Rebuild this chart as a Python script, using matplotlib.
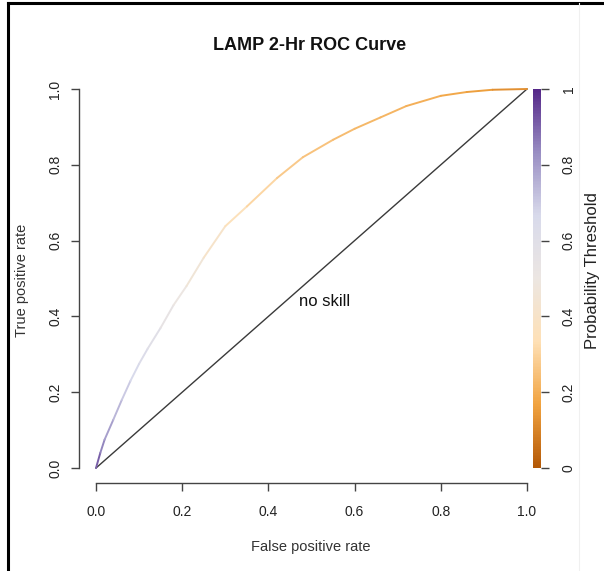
import numpy as np
import matplotlib
matplotlib.use("Agg")
import matplotlib.pyplot as plt
from matplotlib.collections import LineCollection
from matplotlib.colors import LinearSegmentedColormap, Normalize
from matplotlib.cm import ScalarMappable
from matplotlib.lines import Line2D

plt.rcParams['font.family'] = ['Liberation Sans', 'DejaVu Sans']

# ROC curve
fpr = [0.0, 0.01, 0.02, 0.04, 0.06, 0.08, 0.10, 0.12, 0.15, 0.18, 0.21, 0.25,
       0.30, 0.35, 0.42, 0.48, 0.55, 0.60, 0.66, 0.72, 0.80, 0.86, 0.92, 1.0]
tpr = [0.0, 0.04, 0.075, 0.127, 0.18, 0.23, 0.275, 0.315, 0.37, 0.43, 0.48, 0.555,
       0.638, 0.69, 0.765, 0.82, 0.866, 0.895, 0.925, 0.955, 0.982, 0.992, 0.998, 1.0]
threshold = [0.95, 0.87, 0.82, 0.77, 0.72, 0.68, 0.65, 0.62, 0.57, 0.52, 0.48, 0.44,
             0.38, 0.33, 0.28, 0.26, 0.24, 0.23, 0.22, 0.21, 0.19, 0.17, 0.15, 0.10]

ticks = [0.0, 0.2, 0.4, 0.6, 0.8, 1.0]
tick_labels = ['0.0', '0.2', '0.4', '0.6', '0.8', '1.0']
cbar_labels = ['0', '0.2', '0.4', '0.6', '0.8', '1']

puor = LinearSegmentedColormap.from_list(
    'puor7', ['#b35806', '#f1a340', '#fee0b6', '#ece6e2', '#d8daeb', '#998ec3', '#542788'])

W, H = 604, 571
fig = plt.figure(figsize=(W / 100, H / 100), dpi=100)

def fx(px):
    return px / W

def fy(py):
    return 1 - py / H

# plot region: 0 -> x=96px, 1 -> x=527px ; 0 -> y=468px, 1 -> y=89px
sx = 527 - 96
sy = 468 - 89
ax = fig.add_axes([fx(96 - 0.04 * sx), fy(468 + 0.04 * sy), 1.08 * sx / W, 1.08 * sy / H])
ax.set_xlim(-0.04, 1.04)
ax.set_ylim(-0.04, 1.04)
for s in ['top', 'right']:
    ax.spines[s].set_visible(False)
for s in ['left', 'bottom']:
    ax.spines[s].set_bounds(0, 1)
    ax.spines[s].set_color('#444444')
    ax.spines[s].set_linewidth(1.0)

ax.set_xticks(ticks)
ax.set_xticklabels(tick_labels)
ax.set_yticks(ticks)
ax.set_yticklabels(tick_labels, rotation=90, va='center')
ax.tick_params(axis='x', length=6, width=1.0, color='#444444', pad=10,
               labelsize=10, labelcolor='#222222')
ax.tick_params(axis='y', length=6, width=1.0, color='#444444', pad=6,
               labelsize=10, labelcolor='#222222')

# no skill diagonal
ax.plot([0, 1], [0, 1], color='#3a3a3a', lw=1.0)
ax.text(0.531, 0.438, 'no skill', fontsize=12, color='#111111', ha='center', va='center')

# colorized ROC curve
pts = np.column_stack([fpr, tpr])
segs = np.stack([pts[:-1], pts[1:]], axis=1)
seg_val = (np.array(threshold[:-1]) + np.array(threshold[1:])) / 2
norm = Normalize(0, 1)
lc = LineCollection(segs, cmap=puor, norm=norm, linewidth=1.4, capstyle='round')
lc.set_array(seg_val)
ax.add_collection(lc)

# colorbar
cax = fig.add_axes([fx(533), fy(468), 8 / W, sy / H])
cb = fig.colorbar(ScalarMappable(norm=norm, cmap=puor), cax=cax)
cb.outline.set_visible(False)
cb.set_ticks(ticks)
cb.set_ticklabels(cbar_labels)
cax.tick_params(length=6, width=1.0, color='#444444', pad=9, labelsize=10,
                labelcolor='#222222')
for lab in cax.get_yticklabels():
    lab.set_rotation(90)
    lab.set_va('center')

# titles and axis labels
fig.text(fx(310), fy(45), 'LAMP 2-Hr ROC Curve', fontsize=13, fontweight='bold',
         ha='center', va='center', color='#111111')
fig.text(fx(311), fy(547), 'False positive rate', fontsize=10.5, ha='center',
         va='center', color='#333333')
fig.text(fx(22), fy(280), 'True positive rate', fontsize=10.5, ha='center',
         va='center', rotation=90, color='#333333')
fig.text(fx(593), fy(271), 'Probability Threshold', fontsize=12, ha='center',
         va='center', rotation=90, color='#222222')

# screenshot frame
fig.add_artist(Line2D([fx(8), fx(8)], [0, fy(3)], color='black', lw=2.2))
fig.add_artist(Line2D([fx(8), 1], [fy(3), fy(3)], color='black', lw=2.2))
fig.add_artist(Line2D([fx(579), fx(579)], [0, fy(3)], color='#f0f0f0', lw=0.8))

fig.savefig('out.png', dpi=100)
